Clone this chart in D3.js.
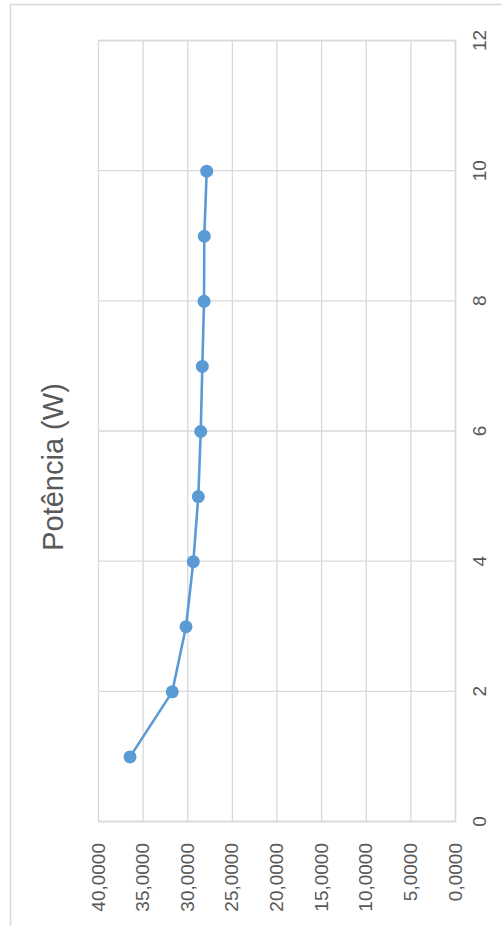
<!DOCTYPE html>
<html>
<head>
<meta charset="utf-8">
<script src="https://cdn.jsdelivr.net/npm/d3@7"></script>
<style>
  html, body { margin: 0; padding: 0; background: #fff; }
  svg { display: block; }
  text { font-family: "Liberation Sans", Arial, sans-serif; fill: #595959; }
</style>
</head>
<body>
<script>
// Series: power (W) per step
const steps = [1, 2, 3, 4, 5, 6, 7, 8, 9, 10];
const potencia = [36.41, 31.68, 30.14, 29.32, 28.76, 28.49, 28.31, 28.12, 28.09, 27.82];

// Axis settings
const stepTicks = [0, 2, 4, 6, 8, 10, 12];
const valueTicks = [0, 5, 10, 15, 20, 25, 30, 35, 40];
const title = "Potência (W)";

const W = 502, H = 926;
const svg = d3.select("body").append("svg").attr("width", W).attr("height", H);

// Outer chart border
svg.append("rect")
  .attr("x", 10.5).attr("y", 4.5)
  .attr("width", 520).attr("height", 960)
  .attr("fill", "none").attr("stroke", "#d9d9d9").attr("stroke-width", 1.5);

// The chart is laid out in its own frame (steps left→right, power bottom→top)
// and turned a quarter turn counter-clockwise onto the page.
const g = svg.append("g").attr("transform", `translate(0,${H}) rotate(-90)`);

const plot = { left: 104, right: 885, top: 98, bottom: 455 };

const x = d3.scaleLinear().domain([0, 12]).range([plot.left, plot.right]);
const y = d3.scaleLinear().domain([0, 40]).range([plot.bottom, plot.top]);

const fmt = d3.formatLocale({ decimal: ",", thousands: ".", grouping: [3], currency: ["", ""] }).format(".4f");

// Value axis + horizontal gridlines
const yAxis = g.append("g")
  .attr("transform", `translate(${plot.left},0)`)
  .call(d3.axisLeft(y).tickValues(valueTicks).tickFormat(fmt)
    .tickSize(-(plot.right - plot.left)).tickPadding(21));
yAxis.select(".domain").remove();
yAxis.selectAll(".tick line").attr("stroke", "#d9d9d9").attr("stroke-width", 1.3);
yAxis.selectAll(".tick text").attr("font-size", 19).style("font-family", "Liberation Sans, Arial, sans-serif").attr("fill", "#595959");

// Step axis + vertical gridlines
const xAxis = g.append("g")
  .attr("transform", `translate(0,${plot.bottom})`)
  .call(d3.axisBottom(x).tickValues(stepTicks).tickFormat(d3.format("d"))
    .tickSize(-(plot.bottom - plot.top)).tickPadding(18));
xAxis.select(".domain").attr("stroke", "#d9d9d9").attr("stroke-width", 1.5);
xAxis.selectAll(".tick line").attr("stroke", "#d9d9d9").attr("stroke-width", 1.3);
xAxis.selectAll(".tick text").attr("font-size", 19).style("font-family", "Liberation Sans, Arial, sans-serif").attr("fill", "#595959");

// Series line
const pts = steps.map((s, i) => [s, potencia[i]]);
g.append("path")
  .datum(pts)
  .attr("fill", "none")
  .attr("stroke", "#5b9bd5")
  .attr("stroke-width", 2.6)
  .attr("stroke-linejoin", "round")
  .attr("d", d3.line().x(d => x(d[0])).y(d => y(d[1])));

// Markers
g.selectAll("circle.pt")
  .data(pts)
  .join("circle")
  .attr("class", "pt")
  .attr("cx", d => x(d[0]))
  .attr("cy", d => y(d[1]))
  .attr("r", 6.5)
  .attr("fill", "#5b9bd5");

// Title
g.append("text")
  .attr("x", 459)
  .attr("y", 53)
  .attr("text-anchor", "middle")
  .attr("dominant-baseline", "central")
  .attr("font-size", 29)
  .text(title);
</script>
</body>
</html>
